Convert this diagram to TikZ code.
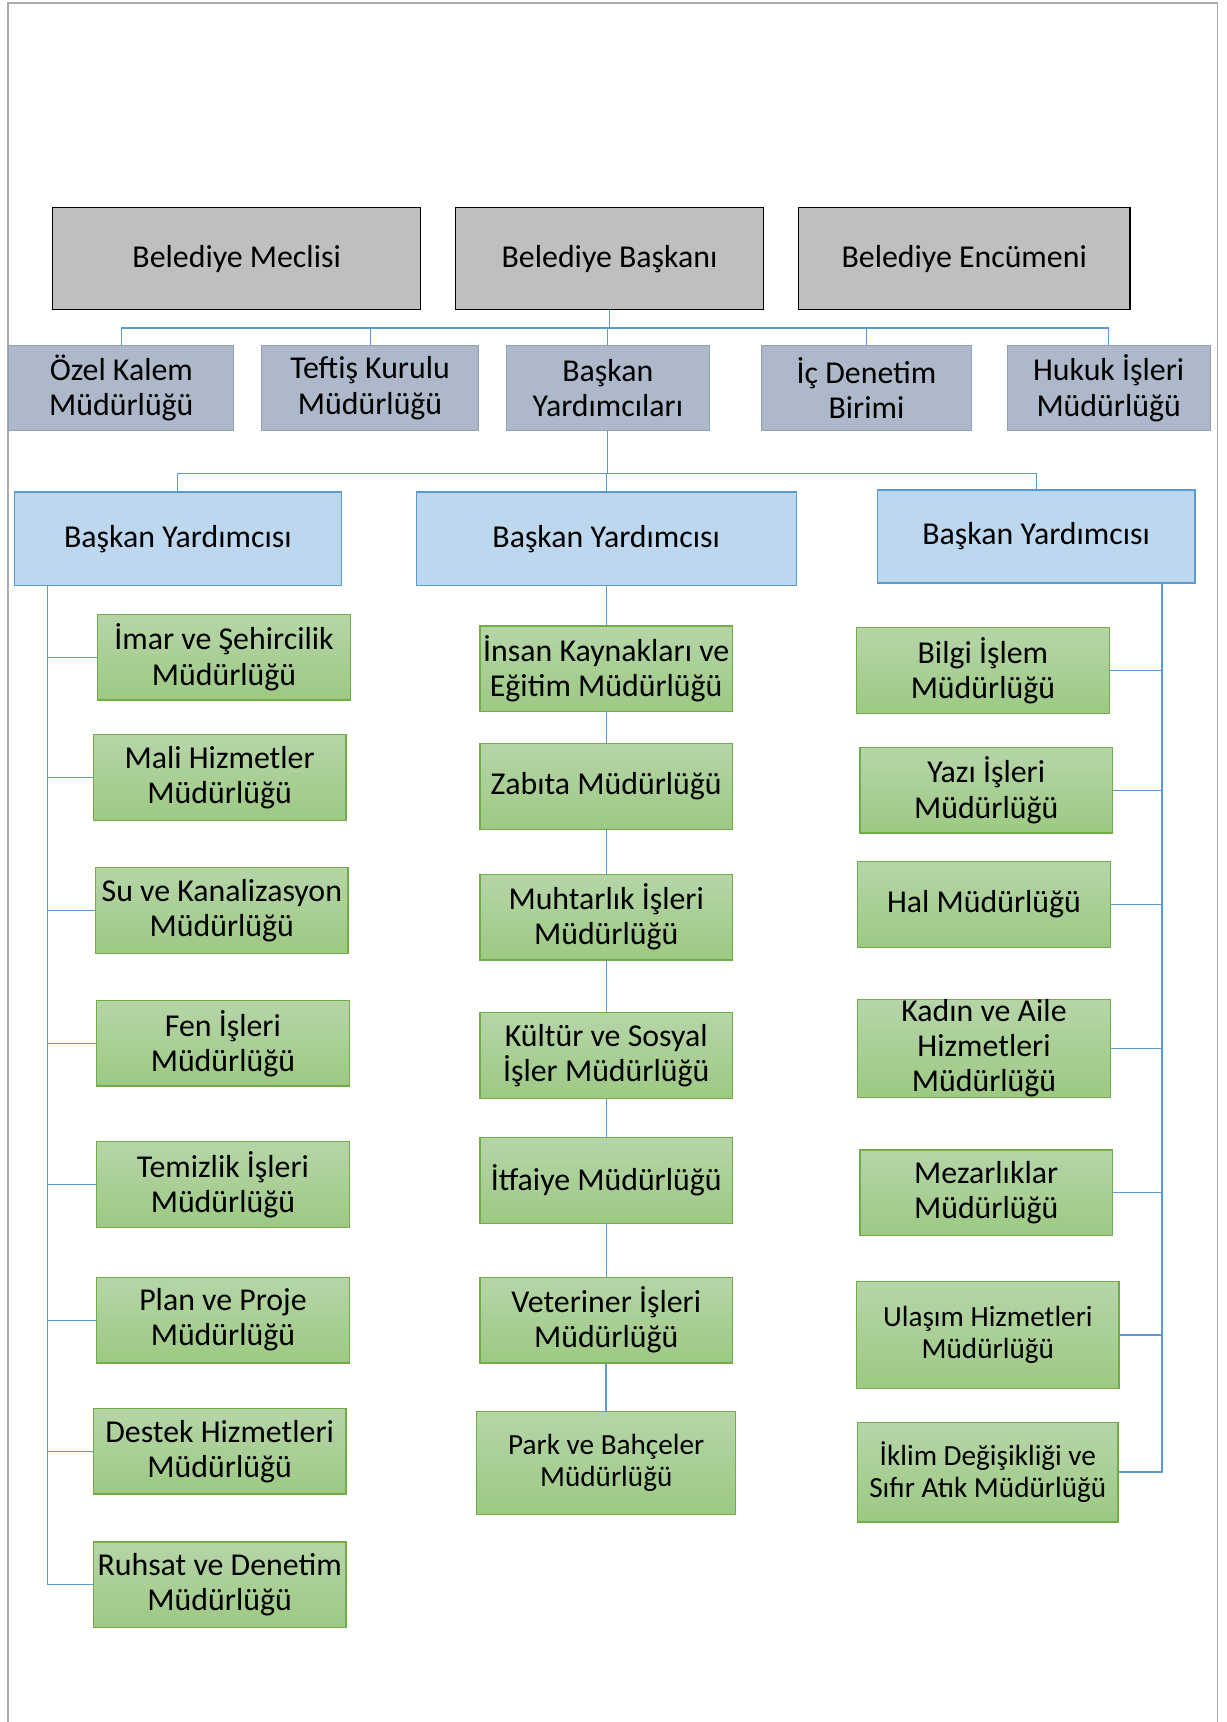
\documentclass[tikz,border=0pt]{standalone}
\usepackage{fontspec}
\setmainfont{Carlito}
\definecolor{pageframe}{RGB}{170,170,170}
\definecolor{topfill}{RGB}{191,191,191}
\definecolor{secfill}{RGB}{173,185,202}
\definecolor{secdraw}{RGB}{143,160,186}
\definecolor{thirdfill}{RGB}{189,215,238}
\definecolor{thirddraw}{RGB}{91,155,213}
\definecolor{gtop}{RGB}{182,213,168}
\definecolor{gbot}{RGB}{157,201,131}
\definecolor{gdraw}{RGB}{112,173,71}
\definecolor{linkblue}{RGB}{91,155,213}
\begin{document}
\begin{tikzpicture}[x=1pt,y=-1pt,
  every node/.style={inner sep=0pt,align=center,font=\fontsize{29}{32}\selectfont},
  topbox/.style={draw=black,line width=1.3pt,fill=topfill,minimum height=93},
  secbox/.style={draw=secdraw,line width=1pt,fill=secfill,minimum height=77},
  thirdbox/.style={draw=thirddraw,line width=1.3pt,fill=thirdfill,minimum height=85},
  gbox/.style={draw=gdraw,line width=1.2pt,top color=gtop,bottom color=gbot,minimum width=230,minimum height=78},
  smalltext/.style={font=\fontsize{26.6}{29.5}\selectfont},
  conn/.style={draw=linkblue,line width=1pt},
  connthick/.style={draw=linkblue,line width=1.8pt}]
\useasboundingbox (0,0) rectangle (1117,1568);
% page frame
\draw[pageframe,line width=1.5pt] (7.5,1568) -- (7.5,2.7) -- (1108.5,2.7) -- (1108.5,1568);

% top row
\node[topbox,minimum width=335] (mec) at (215.5,235.5) {Belediye Meclisi};
\node[topbox,minimum width=280] (bb) at (555,235.5) {Belediye Başkanı};
\node[topbox,minimum width=302] (enc) at (878,235.5) {Belediye Encümeni};

% second row
\node[secbox,minimum width=205] (ozel) at (110.5,353.5) {Özel Kalem\\Müdürlüğü};
\node[secbox,minimum width=198] (teftis) at (337,353.5) {Teftiş Kurulu\\Müdürlüğü};
\node[secbox,minimum width=185] (by) at (553.5,353.5) {Başkan\\Yardımcıları};
\node[secbox,minimum width=192] (icd) at (789,353.5) {İç Denetim\\Birimi};
\node[secbox,minimum width=185] (hukuk) at (1009.5,353.5) {Hukuk İşleri\\Müdürlüğü};

\draw[conn] (bb.south) -- ++(0,16) -| (ozel.north);
\draw[conn] (bb.south) -- ++(0,16) -| (teftis.north);
\draw[conn] (bb.south) -- ++(0,16) -| (by.north);
\draw[conn] (bb.south) -- ++(0,16) -| (icd.north);
\draw[conn] (bb.south) -- ++(0,16) -| (hukuk.north);

% third row
\node[thirdbox,minimum width=298] (bya) at (162,490.5) {Başkan Yardımcısı};
\node[thirdbox,minimum width=346] (byb) at (552,490.5) {Başkan Yardımcısı};
\node[thirdbox,minimum width=289] (byc) at (943.5,488.5) {Başkan Yardımcısı};

\draw[conn] (by.south) -- ++(0,39) -| (bya.north);
\draw[conn] (by.south) -- ++(0,39) -| (byb.north);
\draw[conn] (by.south) -- ++(0,39) -| (byc.north);

% left column
\coordinate (L0) at (43,533);
\node[gbox] (l1) at (204,598.5) {İmar ve Şehircilik\\Müdürlüğü};
\node[gbox] (l2) at (200,708) {Mali Hizmetler\\Müdürlüğü};
\node[gbox] (l3) at (202,829) {Su ve Kanalizasyon\\Müdürlüğü};
\node[gbox] (l4) at (203,950) {Fen İşleri\\Müdürlüğü};
\node[gbox] (l5) at (203,1078.5) {Temizlik İşleri\\Müdürlüğü};
\node[gbox] (l6) at (203,1202) {Plan ve Proje\\Müdürlüğü};
\node[gbox] (l7) at (200,1321.5) {Destek Hizmetleri\\Müdürlüğü};
\node[gbox] (l8) at (200,1443) {Ruhsat ve Denetim\\Müdürlüğü};
\foreach \n in {l1,l2,l3,l4,l5,l6,l7,l8} \draw[conn] (L0) |- (\n.west);

% middle column
\node[gbox] (m1) at (552,609) {İnsan Kaynakları ve\\Eğitim Müdürlüğü};
\node[gbox] (m2) at (552,716) {Zabıta Müdürlüğü};
\node[gbox] (m3) at (552,835) {Muhtarlık İşleri\\Müdürlüğü};
\node[gbox] (m4) at (552,961) {Kültür ve Sosyal\\İşler Müdürlüğü};
\node[gbox] (m5) at (552,1075) {İtfaiye Müdürlüğü};
\node[gbox] (m6) at (552,1202) {Veteriner İşleri\\Müdürlüğü};
\node[gbox,smalltext,minimum width=236,minimum height=94] (m7) at (552,1332) {Park ve Bahçeler\\Müdürlüğü};
\draw[conn] (byb.south) -- (m1.north);
\draw[conn] (m1.south) -- (m2.north);
\draw[conn] (m2.south) -- (m3.north);
\draw[conn] (m3.south) -- (m4.north);
\draw[conn] (m4.south) -- (m5.north);
\draw[conn] (m5.south) -- (m6.north);
\draw[conn,line width=1.6pt] (m6.south) -- (m7.north);

% right column
\coordinate (R0) at (1058,531);
\node[gbox] (r1) at (895,610.5) {Bilgi İşlem\\Müdürlüğü};
\node[gbox] (r2) at (898,719.5) {Yazı İşleri\\Müdürlüğü};
\node[gbox] (r3) at (896,823.5) {Hal Müdürlüğü};
\node[gbox,minimum height=87] (r4) at (896,954.5) {Kadın ve Aile\\Hizmetleri\\Müdürlüğü};
\node[gbox] (r5) at (898,1086) {Mezarlıklar\\Müdürlüğü};
\node[gbox,smalltext,minimum width=239,minimum height=97] (r6) at (899.5,1215.5) {Ulaşım Hizmetleri\\Müdürlüğü};
\node[gbox,smalltext,minimum width=237,minimum height=91] (r7) at (899.5,1340.5) {İklim Değişikliği ve\\Sıfır Atık Müdürlüğü};
\draw[conn] (R0) |- (r1.east);
\draw[conn] (R0) |- (r2.east);
\draw[conn] (R0) |- (r3.east);
\draw[conn] (R0) |- (r4.east);
\draw[conn] (R0) |- (r5.east);
\draw[connthick] (R0) |- (r6.east);
\draw[connthick] (R0) |- (r7.east);
\end{tikzpicture}
\end{document}
